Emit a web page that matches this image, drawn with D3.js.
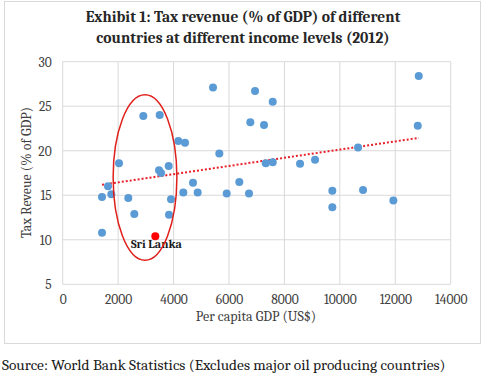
<!DOCTYPE html>
<html><head><meta charset="utf-8">
<script src="https://cdn.jsdelivr.net/npm/d3@7"></script>
<style>body{margin:0;background:#fff}svg{display:block}</style>
</head><body><svg id="c" width="484" height="376"></svg>
<script>
const gdp = [2909,3500,4172,4414,2032,3825,3475,3547,1635,4702,1418,1754,2367,3908,4352,4870,2584,3836,1418,
  5424,6940,7578,6770,7264,5651,7326,7578,8564,9105,5918,6373,6723,12847,12811,10657,9729,9729,10837,11931];
const tax = [23.9,24.0,21.1,20.9,18.6,18.3,17.8,17.5,16.0,16.4,14.8,15.1,14.7,14.55,15.3,15.3,12.9,12.8,10.8,
  27.1,26.7,25.5,23.2,22.9,19.7,18.6,18.7,18.55,19.0,15.2,16.5,15.2,28.4,22.8,20.35,15.5,13.65,15.6,14.4];
const sriLanka = {name:"Sri Lanka", gdp:3342, tax:10.4};
const xTicks = [0,2000,4000,6000,8000,10000,12000,14000];
const yTicks = [5,10,15,20,25,30];
const titleLines = ["Exhibit 1: Tax revenue (% of GDP)  of different","countries at different income levels (2012)"];
const ellipseSpec = {gdp:2970, tax:17.0, dGdp:1150, dTax:9.3};

const svg = d3.select("#c");
const serif = "Cambria, 'Liberation Serif', serif";
const L=62.7, R=450.7, T=61.7, B=284.3;
const x = d3.scaleLinear().domain([0,14000]).range([L,R]);
const y = d3.scaleLinear().domain([5,30]).range([B,T]);

svg.append("rect").attr("x",4.5).attr("y",1.5).attr("width",476).attr("height",342)
  .attr("fill","#fff").attr("stroke","#d9d9d9");

svg.append("g").selectAll("text").data(titleLines).join("text")
  .attr("x",243).attr("y",(d,i)=>22+i*21).attr("text-anchor","middle")
  .attr("font-family",serif).attr("font-weight","bold").attr("font-size",15.5).attr("fill","#262626")
  .text(d=>d);

const grid = svg.append("g").attr("stroke","#d9d9d9").attr("stroke-width",1);
grid.selectAll(".gx").data(xTicks).join("line").attr("x1",d=>x(d)).attr("x2",d=>x(d)).attr("y1",T).attr("y2",B);
grid.selectAll(".gy").data(yTicks).join("line").attr("y1",d=>y(d)).attr("y2",d=>y(d)).attr("x1",L).attr("x2",R);

const xa = svg.append("g").attr("transform",`translate(0,${B})`).call(d3.axisBottom(x).tickValues(xTicks).tickFormat(d3.format("d")).tickSize(0).tickPadding(10));
const ya = svg.append("g").attr("transform",`translate(${L},0)`).call(d3.axisLeft(y).tickValues(yTicks).tickSize(0).tickPadding(11));
[xa,ya].forEach(a=>{a.select(".domain").remove();a.selectAll("text").attr("font-family",serif).attr("font-size",13.5).attr("fill","#404040");});

svg.append("text").attr("x",256).attr("y",321).attr("text-anchor","middle")
  .attr("font-family",serif).attr("font-size",14).attr("fill","#404040").text("Per capita GDP (US$)");
svg.append("text").attr("transform",`translate(31,172.5) rotate(-90)`).attr("text-anchor","middle")
  .attr("font-family",serif).attr("font-size",14).attr("fill","#404040").text("Tax Reveue (% of GDP)");

// trendline (least squares of the plotted points)
const allX = gdp.concat([sriLanka.gdp]), allY = tax.concat([sriLanka.tax]);
const mx = d3.mean(allX), my = d3.mean(allY);
const slope = d3.sum(allX.map((v,i)=>(v-mx)*(allY[i]-my)))/d3.sum(allX.map(v=>(v-mx)*(v-mx)));
const icpt = my - slope*mx;
const [x0,x1] = d3.extent(allX);
svg.append("line").attr("x1",x(x0)).attr("x2",x(x1)).attr("y1",y(icpt+slope*x0)).attr("y2",y(icpt+slope*x1))
  .attr("stroke","#e8202a").attr("stroke-width",2).attr("stroke-dasharray","2,2");

svg.append("g").selectAll("circle").data(gdp.map((g,i)=>[g,tax[i]])).join("circle")
  .attr("cx",d=>x(d[0])).attr("cy",d=>y(d[1])).attr("r",4).attr("fill","#5b9bd5");

svg.append("circle").attr("cx",x(sriLanka.gdp)).attr("cy",y(sriLanka.tax)).attr("r",4).attr("fill","#ff0000");
svg.append("text").attr("x",x(sriLanka.gdp)+1).attr("y",y(sriLanka.tax)+11.5).attr("text-anchor","middle")
  .attr("font-family",serif).attr("font-weight","bold").attr("font-size",12).attr("fill","#1a1a1a").text(sriLanka.name);

svg.append("ellipse").attr("cx",x(ellipseSpec.gdp)).attr("cy",y(ellipseSpec.tax))
  .attr("rx",x(ellipseSpec.gdp+ellipseSpec.dGdp)-x(ellipseSpec.gdp))
  .attr("ry",y(ellipseSpec.tax)-y(ellipseSpec.tax+ellipseSpec.dTax))
  .attr("fill","none").attr("stroke","#e0201b").attr("stroke-width",1.5);

svg.append("text").attr("x",2).attr("y",370).attr("font-family",serif).attr("font-size",15.4).attr("fill","#1a1a1a")
  .text("Source: World Bank Statistics (Excludes major oil producing countries)");
</script></body></html>
